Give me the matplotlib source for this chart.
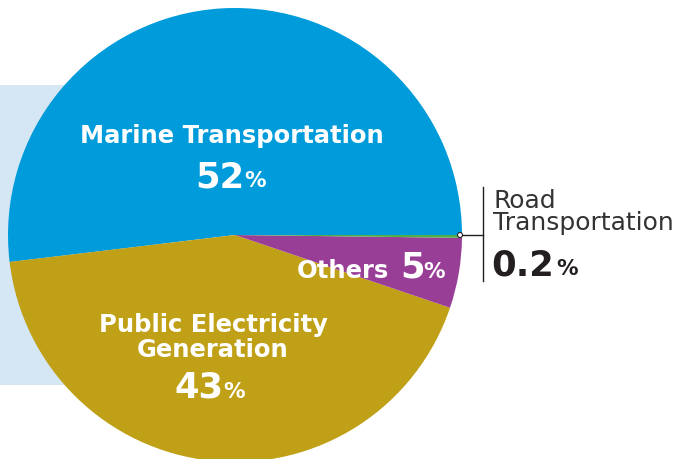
import matplotlib.pyplot as plt
from matplotlib.patches import Rectangle, Circle

# data
labels = ['Marine Transportation', 'Public Electricity Generation', 'Others', 'Road Transportation']
shares = [52, 43, 5, 0.2]
colors = ['#009BDA', '#BFA016', '#993E96', '#4FAE4A']

plt.rcParams['font.family'] = ['DejaVu Sans']

fig = plt.figure(figsize=(6.77, 4.59), dpi=100)
ax = fig.add_axes([0, 0, 1, 1])

H = 459
cx, cy, r = 235, H - 235, 227

# light blue panel behind the pie
ax.add_patch(Rectangle((0, H - 385), 160, 300, facecolor='#D5E6F5', edgecolor='none', zorder=0))
# small blue corner shape at bottom left
ax.add_patch(Circle((-30, -30), 38, facecolor='#009BDA', edgecolor='none', zorder=0))

ax.pie(shares, colors=colors, startangle=0, counterclock=True,
       center=(cx, cy), radius=r, frame=True,
       wedgeprops=dict(linewidth=0))
ax.set_xlim(0, 677)
ax.set_ylim(0, 459)
ax.set_aspect('equal')
ax.axis('off')

white = 'white'
lab = dict(color=white, fontsize=17.5, fontweight='bold', va='baseline')
big = dict(color=white, fontsize=25.5, fontweight='bold', va='baseline', ha='right')
pct = dict(color=white, fontsize=15.5, fontweight='bold', va='baseline', ha='left')

# Marine
ax.text(232, H - 143, 'Marine Transportation', ha='center', **lab)
ax.text(245, H - 187, '52', **big)
ax.text(244, H - 187, '%', **pct)

# Public Electricity
ax.text(213, H - 332, 'Public Electricity', ha='center', **lab)
ax.text(213, H - 357, 'Generation', ha='center', **lab)
ax.text(224, H - 398, '43', **big)
ax.text(223, H - 398, '%', **pct)

# Others
ax.text(389, H - 278, 'Others', ha='right', **lab)
ax.text(425, H - 278, '5', **big)
ax.text(423, H - 278, '%', **pct)

# Road leader and label
dark = '#231F20'
ax.plot([460, 483], [H - 235, H - 235], color=dark, lw=1, zorder=5)
ax.plot([483, 483], [H - 187, H - 281], color=dark, lw=1, zorder=5)
ax.add_patch(Circle((460, H - 235), 2.5, facecolor='white', edgecolor=dark, lw=0.8, zorder=6))
ax.text(493, H - 208, 'Road', color='#333333', fontsize=18, ha='left', va='baseline')
ax.text(493, H - 230, 'Transportation', color='#333333', fontsize=18, ha='left', va='baseline')
ax.text(491, H - 275, '0.2', color=dark, fontsize=25.5, fontweight='bold', ha='left', va='baseline')
ax.text(556, H - 275, '%', color=dark, fontsize=15.5, fontweight='bold', ha='left', va='baseline')

fig.savefig('out.png', dpi=100)
